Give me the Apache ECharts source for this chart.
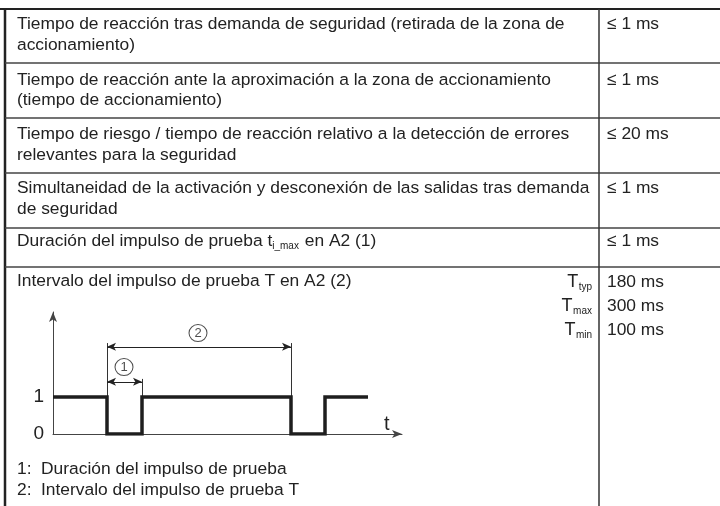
<!DOCTYPE html>
<html><head><meta charset="utf-8">
<script src="https://cdn.jsdelivr.net/npm/echarts@6/dist/echarts.min.js"></script>
<style>html,body{margin:0;padding:0;background:#fff}#c{width:720px;height:506px}</style>
</head><body><div id="c"></div>
<script>
// ---- table content ----
const rowLabels = [
  ["Tiempo de reacción tras demanda de seguridad (retirada de la zona de", "accionamiento)"],
  ["Tiempo de reacción ante la aproximación a la zona de accionamiento", "(tiempo de accionamiento)"],
  ["Tiempo de riesgo / tiempo de reacción relativo a la detección de errores", "relevantes para la seguridad"],
  ["Simultaneidad de la activación y desconexión de las salidas tras demanda", "de seguridad"]
];
const rowValues = ["≤ 1 ms", "≤ 1 ms", "≤ 20 ms", "≤ 1 ms", "≤ 1 ms"];
const pulseLabel = ["Duración del impulso de prueba t", "i_max", " en A2 (1)"];
const intervalLabel = "Intervalo del impulso de prueba T en A2 (2)";
const intervalSubs = ["typ", "max", "min"];
const intervalValues = ["180 ms", "300 ms", "100 ms"];
const legendNums = ["1:", "2:"];
const legendTexts = ["Duración del impulso de prueba", "Intervalo del impulso de prueba T"];

// ---- diagram data ----
const signalTimes  = [0, 54, 54, 89, 89, 238, 238, 272, 272, 315];
const signalLevels = [1, 1, 0, 0, 1, 1, 0, 0, 1, 1];
const levelTicks = [0, 1];
const guideX   = [54, 89, 238];
const guideTop = [2.46, 1.49, 2.46];
const dimStart = [54, 54];
const dimEnd   = [89, 238];
const dimLevel = [1.41, 2.36];
const markerX  = [71, 145];
const markerY  = [1.81, 2.73];
const markerText = ["1", "2"];

const FF = '"Liberation Sans", Arial, sans-serif';
const FS = 17.4;
const TXT = '#222';
const cvs = document.createElement('canvas').getContext('2d');
function tw(s, size) { cvs.font = size + 'px ' + FF; return cvs.measureText(s).width; }

const g = [];
function line(x1, y1, x2, y2, w, c) {
  g.push({type: 'line', silent: true, z: 100, shape: {x1, y1, x2, y2}, style: {stroke: c || '#333', lineWidth: w}});
}
function text(t, x, y, size, align) {
  g.push({type: 'text', silent: true, z: 100, x, y, style: {text: t, fontSize: size, fontFamily: FF, fill: TXT, align: align || 'left', verticalAlign: 'middle'}});
}

// borders
const rowLinesY = [63, 118, 173, 228, 267];
line(0, 9, 720, 9, 2, '#222');
line(5, 8, 5, 506, 2.5, '#222');
rowLinesY.forEach(y => line(5, y, 720, y, 1.5, '#444'));
line(599, 9, 599, 506, 1.5, '#333');

const rowCenters = [24.5, 80, 134.5, 188.5, 241.5, 281.5];
const TX = 17, VX = 607, LH = 20.5;
rowLabels.forEach((ls, i) => ls.forEach((l, j) => text(l, TX, rowCenters[i] + j * LH, FS)));
rowValues.forEach((v, i) => text(v, VX, rowCenters[i], FS));
// t_i_max row
let px = TX;
text(pulseLabel[0], px, rowCenters[4], FS); px += tw(pulseLabel[0], FS);
text(pulseLabel[1], px, rowCenters[4] + 5, 10); px += tw(pulseLabel[1], 10) + 1;
text(pulseLabel[2], px, rowCenters[4], FS);
// interval row
text(intervalLabel, TX, rowCenters[5], FS);
const ivY = [282.5, 306.5, 330.5];
intervalSubs.forEach((s, i) => {
  const sw = tw(s, 10);
  text(s, 592, ivY[i] + 5, 10, 'right');
  text('T', 592 - sw - 0.5, ivY[i], 18, 'right');
  text(intervalValues[i], VX, ivY[i], FS);
});
// legend
const legY = [469.5, 490];
legendNums.forEach((n, i) => { text(n, TX, legY[i], FS); text(legendTexts[i], 41, legY[i], FS); });
// t axis label
text('t', 384, 424, 20);

const chart = echarts.init(document.getElementById('c'), null, {renderer: 'canvas'});
chart.setOption({
  animation: false,
  grid: {left: 53, top: 312, width: 349, height: 122, containLabel: false},
  xAxis: {type: 'value', min: 0, max: 349, splitLine: {show: false}, axisTick: {show: false}, axisLabel: {show: false},
    axisLine: {show: true, symbol: ['none', 'arrow'], symbolSize: [6, 10], lineStyle: {color: '#444', width: 1}}},
  yAxis: {type: 'value', min: 0, max: 3.3, splitLine: {show: false}, axisTick: {show: false},
    axisLabel: {show: true, customValues: levelTicks, margin: 9, fontSize: 19, fontFamily: FF, color: TXT},
    axisLine: {show: true, symbol: ['none', 'arrow'], symbolSize: [6, 10], lineStyle: {color: '#444', width: 1}}},
  series: [
    {type: 'line', data: signalTimes.map((t, i) => [t, signalLevels[i]]), symbol: 'none',
      lineStyle: {color: '#1e1e1e', width: 3.5, join: 'miter', cap: 'butt'}, silent: true, z: 5},
    {type: 'line', data: [], silent: true,
      markLine: {silent: true, symbol: ['none', 'none'], label: {show: false}, animation: false,
        lineStyle: {type: 'solid', color: '#333', width: 1},
        data: guideX.map((x, i) => [{coord: [x, 1]}, {coord: [x, guideTop[i]]}])}},
    {type: 'line', data: [], silent: true,
      markLine: {silent: true, symbol: ['arrow', 'arrow'], symbolSize: [6, 9], label: {show: false}, animation: false,
        lineStyle: {type: 'solid', color: '#222', width: 1},
        data: dimStart.map((x, i) => [{coord: [x, dimLevel[i]]}, {coord: [dimEnd[i], dimLevel[i]]}])}},
    {type: 'scatter', silent: true, symbol: 'circle', symbolSize: [18, 17],
      itemStyle: {color: '#fff', borderColor: '#222', borderWidth: 1},
      label: {show: true, position: 'inside', formatter: p => markerText[p.dataIndex], fontSize: 13, fontFamily: FF, color: TXT},
      data: markerX.map((x, i) => [x, markerY[i]])}
  ],
  graphic: g
});
</script></body></html>
